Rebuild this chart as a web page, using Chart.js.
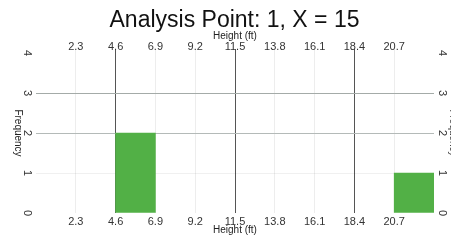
<!DOCTYPE html>
<html><head><meta charset="utf-8">
<script src="https://cdn.jsdelivr.net/npm/chart.js@4"></script>
<style>html,body{margin:0;padding:0;background:#fff;} #wrap{width:451px;height:243px;}</style>
</head><body><div id="wrap"><canvas id="c" width="451" height="243"></canvas></div>
<script>
const chartTitle = 'Analysis Point: 1, X = 15';
const xAxisTitle = 'Height (ft)';
const yAxisTitle = 'Frequency';
const binEdges = [0, 2.3, 4.6, 6.9, 9.2, 11.5, 13.8, 16.1, 18.4, 20.7, 23];
const frequencies = [0, 0, 2, 0, 0, 0, 0, 0, 0, 1];
const xTickValues = [2.3, 4.6, 6.9, 9.2, 11.5, 13.8, 16.1, 18.4, 20.7];
const xTickLabels = ['2.3', '4.6', '6.9', '9.2', '11.5', '13.8', '16.1', '18.4', '20.7'];
const yTickValues = [0, 1, 2, 3, 4];
const yTickLabels = ['0', '1', '2', '3', '4'];
const majorXLines = [4.6, 11.5, 18.4];

const FONT = '"Liberation Sans", Arial, sans-serif';
const barData = frequencies.map((f, i) => ({ x: (binEdges[i] + binEdges[i + 1]) / 2, y: f }));

const leftTitle = {
  id: 'leftTitle',
  afterDraw(chart) {
    const { ctx, chartArea } = chart;
    ctx.save();
    ctx.translate(18, (chartArea.top + chartArea.bottom) / 2);
    ctx.rotate(Math.PI / 2);
    ctx.font = '10px ' + FONT;
    ctx.fillStyle = '#222';
    ctx.textAlign = 'center';
    ctx.textBaseline = 'middle';
    ctx.fillText(yAxisTitle, 0, 0);
    ctx.restore();
  }
};

const xTicks = (s) => { s.ticks = xTickValues.map(v => ({ value: v })); };
const yTicks = (s) => { s.ticks = yTickValues.map(v => ({ value: v })); };

new Chart(document.getElementById('c'), {
  type: 'bar',
  data: {
    datasets: [{
      data: barData,
      backgroundColor: (c) => (c.raw && c.raw.y > 0) ? 'rgb(82,176,70)' : 'rgba(0,0,0,0)',
      borderWidth: 0,
      barPercentage: 1,
      categoryPercentage: 1,
      xAxisID: 'x',
      yAxisID: 'y'
    }]
  },
  options: {
    responsive: false,
    animation: false,
    devicePixelRatio: 1,
    layout: { padding: { left: 18, right: 0, top: 0, bottom: 0 } },
    plugins: {
      legend: { display: false },
      tooltip: { enabled: false },
      title: {
        display: true, text: chartTitle, color: '#111',
        font: { family: FONT, size: 23, weight: 'normal', lineHeight: 1 },
        padding: { top: 9.5, bottom: 0 }
      }
    },
    scales: {
      x: {
        type: 'linear', position: 'bottom', min: 0, max: 23, offset: false,
        afterBuildTicks: xTicks,
        ticks: { callback: (v, i) => xTickLabels[i], font: { family: FONT, size: 11, lineHeight: 1 }, padding: 3.5, maxRotation: 0, autoSkip: false, color: '#333' },
        grid: { display: false, drawTicks: false, offset: false },
        border: { display: false },
        title: { display: true, text: xAxisTitle, color: '#222', font: { family: FONT, size: 10, lineHeight: 1 }, padding: { top: 0, bottom: 8 } },
        afterFit: (s) => { s.height = 30; }
      },
      xTop: {
        type: 'linear', position: 'top', min: 0, max: 23, offset: false,
        afterBuildTicks: xTicks,
        ticks: { callback: (v, i) => xTickLabels[i], font: { family: FONT, size: 11, lineHeight: 1 }, padding: -3, maxRotation: 0, autoSkip: false, color: '#333' },
        grid: {
          offset: false, drawTicks: true, tickLength: 4, lineWidth: 1,
          color: (c) => (c.tick && majorXLines.includes(c.tick.value)) ? '#555' : 'rgba(0,0,0,0.07)'
        },
        border: { display: false },
        title: { display: true, text: xAxisTitle, color: '#222', font: { family: FONT, size: 10, lineHeight: 1 }, padding: { top: -1, bottom: 0 } },
        afterFit: (s) => { s.height = 20.5; }
      },
      y: {
        type: 'linear', position: 'left', min: 0, max: 4,
        afterBuildTicks: yTicks,
        ticks: { callback: (v, i) => yTickLabels[i], font: { family: FONT, size: 11 }, padding: 6.4, crossAlign: 'center', minRotation: -90, maxRotation: -90, color: '#333' },
        grid: {
          drawTicks: false,
          color: (c) => {
            if (!c.tick) return 'rgba(0,0,0,0)';
            const v = c.tick.value;
            if (v === 3) return '#a4aba8';
            if (v === 2) return '#b4bab8';
            if (v === 1) return 'rgba(0,0,0,0.06)';
            return 'rgba(0,0,0,0)';
          }
        },
        border: { display: false },
        afterFit: (s) => { s.width = 18; }
      },
      y2: {
        type: 'linear', position: 'right', min: 0, max: 4,
        afterBuildTicks: yTicks,
        ticks: { callback: (v, i) => yTickLabels[i], font: { family: FONT, size: 11 }, padding: 5, crossAlign: 'center', minRotation: -90, maxRotation: -90, color: '#333' },
        grid: { display: false, drawTicks: false },
        border: { display: false },
        title: { display: true, text: yAxisTitle, color: '#444', font: { family: FONT, size: 10, lineHeight: 1 }, padding: { top: -6.5, bottom: 0 } },
        afterFit: (s) => { s.width = 17; }
      }
    }
  },
  plugins: [leftTitle]
});
</script>
</body></html>
